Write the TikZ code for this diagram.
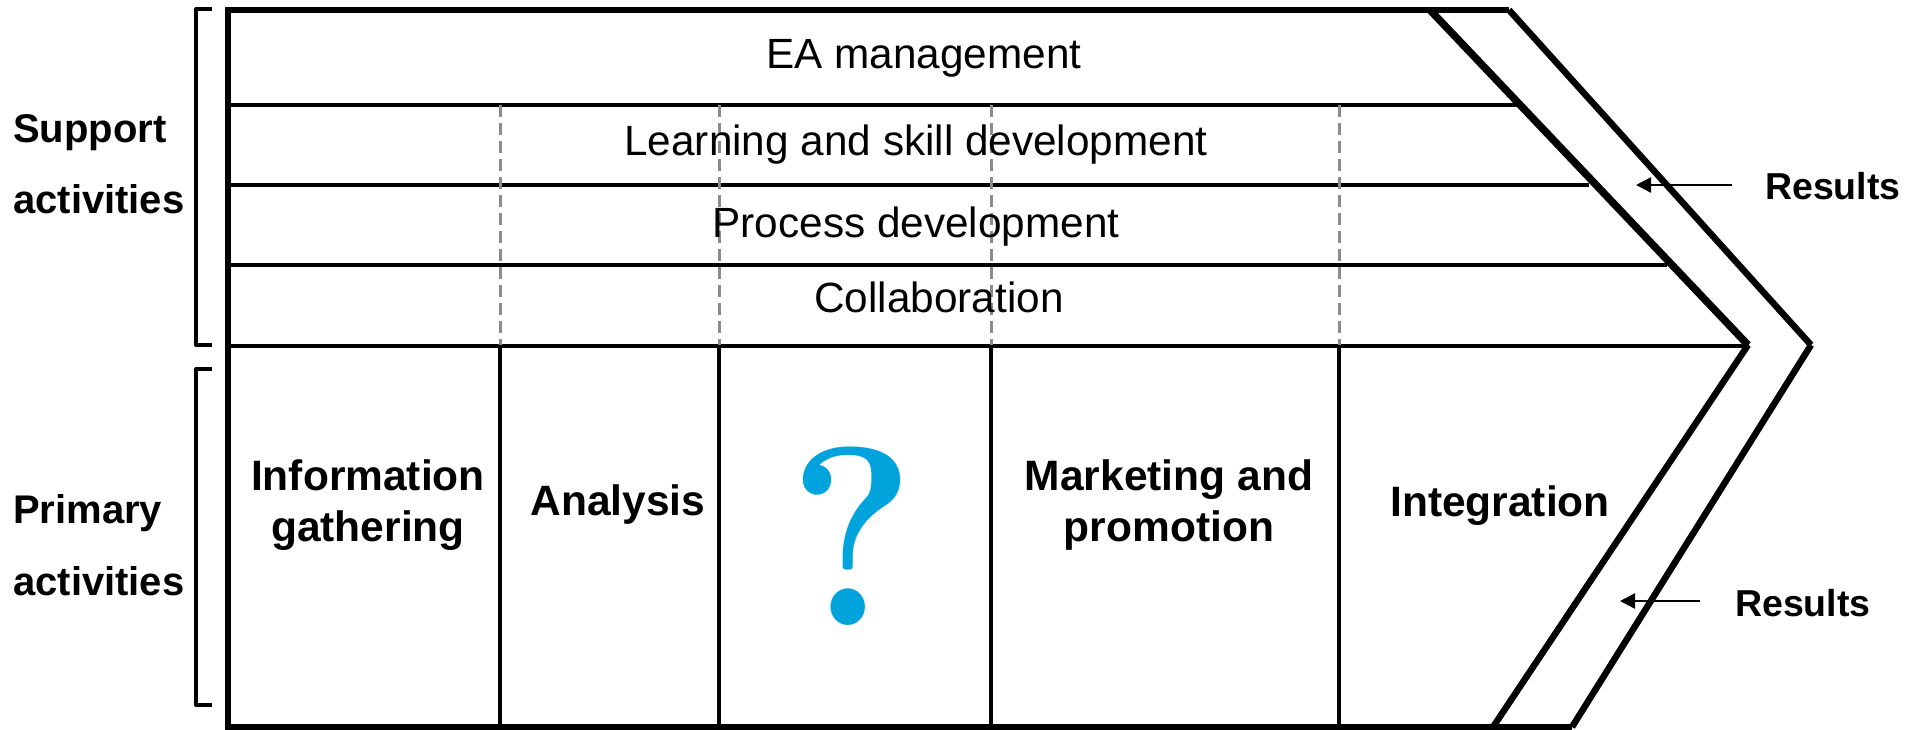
\documentclass[tikz,border=0pt]{standalone}
\usepackage{fontspec}
\setmainfont{Liberation Sans}
\newfontfamily\qfont{Latin Modern Roman}
\usetikzlibrary{arrows.meta}
\definecolor{qblue}{HTML}{00A3DC}
\definecolor{dashgray}{HTML}{8C8C8C}
\tikzset{
  frameline/.style={line width=6.5pt,line join=miter},
  chevron/.style={line width=6.5pt},
  chevroninner/.style={line width=7.5pt},
  rowline/.style={line width=4pt},
  colline/.style={line width=4pt},
  gridDash/.style={line width=3pt,dashgray,dash pattern=on 12pt off 6pt},
  bracketline/.style={line width=4pt,line join=round},
  pointer/.style={line width=2.4pt,-{Triangle[length=15pt,width=15pt]}},
  plain/.style={font=\fontsize{42.3}{48}\selectfont,anchor=center,inner sep=0pt},
  strong/.style={font=\fontsize{42.5}{48}\selectfont\bfseries,anchor=base,inner sep=0pt},
  side/.style={font=\fontsize{40}{48}\selectfont\bfseries,anchor=base west,inner sep=0pt},
  res/.style={font=\fontsize{37.5}{44}\selectfont\bfseries,anchor=west,inner sep=0pt},
}
\begin{document}
\begin{tikzpicture}[x=1pt,y=-1pt]
\useasboundingbox (0,0) rectangle (1907,730);
% key coordinates
\coordinate (tl) at (228,10);
\coordinate (bl) at (228,727);
\coordinate (ti) at (1430,10);
\coordinate (to) at (1509,10);
\coordinate (pi) at (1748,345);
\coordinate (po) at (1811,345);
\coordinate (bi) at (1493,727);
\coordinate (bo) at (1572,727);
% rows
\foreach \n/\y/\xe in {a/105.5/1518,b/185.5/1589,c/265.5/1667,d/345.5/1749}{
  \coordinate (r\n l) at (228,\y);
  \coordinate (r\n r) at (\xe,\y);
  \draw[rowline] (r\n l) -- (r\n r);
}
% columns
\foreach \n/\x in {a/500,b/719,c/991,d/1339}{
  \coordinate (c\n t) at (\x,105);
  \coordinate (c\n m) at (\x,345);
  \coordinate (c\n b) at (\x,727);
  \draw[gridDash] (c\n t) -- (c\n m);
  \draw[colline] (c\n m) -- (c\n b);
}
% frame
\draw[frameline] (to) -- (tl) -- (bl) -- (bo);
\draw[chevroninner] (ti) -- (pi);
\draw[chevron] (pi) -- (bi);
\draw[chevron] (to) -- (po);
\draw[chevron] (po) -- (bo);
% brackets
\coordinate (s1) at (212,9); \coordinate (s2) at (196,9);
\coordinate (s3) at (196,345); \coordinate (s4) at (212,345);
\draw[bracketline] (s1) -- (s2) -- (s3) -- (s4);
\coordinate (p1) at (212,369); \coordinate (p2) at (196,369);
\coordinate (p3) at (196,705); \coordinate (p4) at (212,705);
\draw[bracketline] (p1) -- (p2) -- (p3) -- (p4);
% row labels
\node[plain] (ea) at (924,58) {EA management};
\node[plain] (learn) at (916,145) {Learning and skill development};
\node[plain] (proc) at (916,227) {Process development};
\node[plain] (coll) at (939,297) {Collaboration};
% side labels
\node[side] (sup) at (13,143) {Support};
\node[side] (supb) at (13,214) {activities};
\node[side] (pri) at (13,523) {Primary};
\node[side] (prib) at (13,595) {activities};
% primary labels
\node[strong] (info) at (368,490) {Information};
\node[strong] (gath) at (368,541) {gathering};
\node[strong] (ana) at (618,515) {Analysis};
\node[strong] (mark) at (1169,490) {Marketing and};
\node[strong] (prom) at (1169,541) {promotion};
\node[strong] (integ) at (1500,516) {Integration};
% question mark
\node[inner sep=0pt,anchor=base,text=qblue] (q) at (852,625) {\scalebox{0.94}[1]{\qfont\bfseries\fontsize{255}{255}\selectfont ?}};
% results
\node[res] (r1) at (1765,186) {Results};
\node[res] (r2) at (1735,603) {Results};
\coordinate (a1s) at (1732,185); \coordinate (a1e) at (1636,185);
\coordinate (a2s) at (1700,601); \coordinate (a2e) at (1620,601);
\draw[pointer] (a1s) -- (a1e);
\draw[pointer] (a2s) -- (a2e);
\end{tikzpicture}
\end{document}
